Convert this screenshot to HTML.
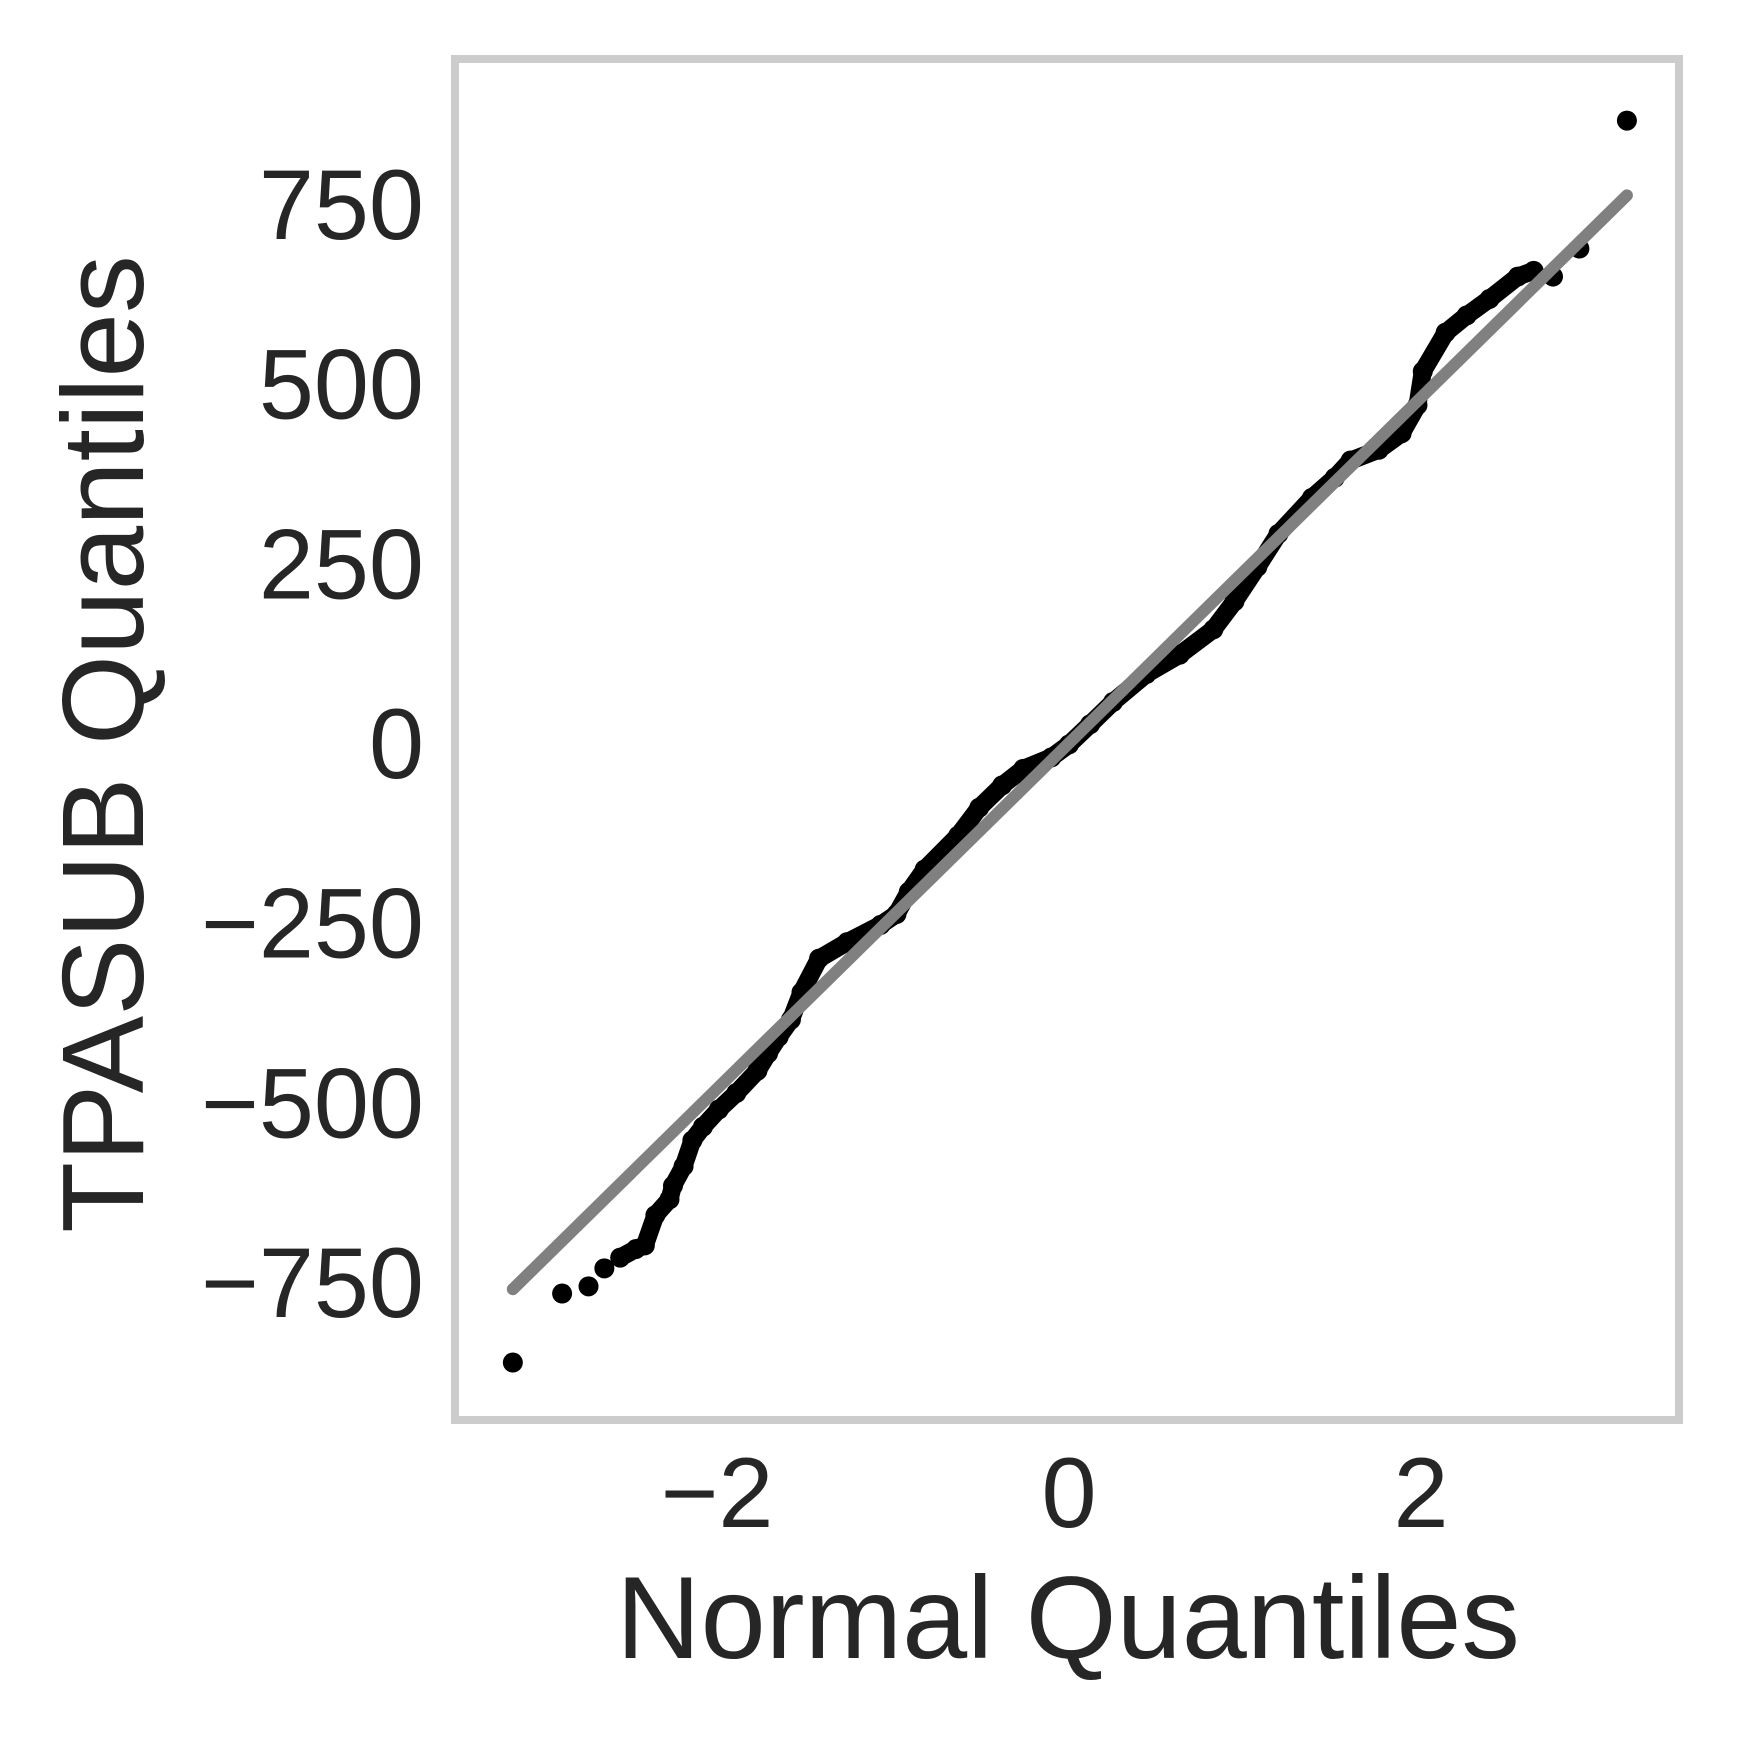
<!DOCTYPE html>
<html><head><meta charset="utf-8"><style>
html,body{margin:0;padding:0;background:#fff;}
svg{display:block;}
text{font-family:"Liberation Sans",Arial,sans-serif;fill:#262626;}
</style></head><body>
<svg id="chart" width="1739" height="1741" viewBox="0 0 1739 1741" xmlns="http://www.w3.org/2000/svg">
<rect x="455" y="59" width="1224" height="1361" fill="#fff" stroke="#cccccc" stroke-width="8"/>
<g id="ticks"></g>
<g id="marks"></g>
<text x="1068" y="1658" font-size="117" text-anchor="middle">Normal Quantiles</text>
<text transform="translate(143,744) rotate(-90)" font-size="116" text-anchor="middle">TPASUB Quantiles</text>
</svg>
<script>
const qx=[-3.16,-2.88,-2.73,-2.64,-2.55,-2.46,-2.41,-2.35,-2.27,-2.25,-2.19,-2.14,-2.08,-1.99,-1.89,-1.77,-1.71,-1.65,-1.58,-1.52,-1.42,-1.26,-1.07,-0.98,-0.91,-0.82,-0.63,-0.51,-0.38,-0.26,-0.10,0,0.12,0.25,0.44,0.63,0.82,0.94,1.07,1.19,1.38,1.51,1.60,1.76,1.89,1.98,2.01,2.14,2.26,2.39,2.55,2.64,2.75,2.90,3.17];
const qy=[-862,-766,-756,-731,-716,-704,-699,-657,-635,-616,-589,-553,-534,-510,-487,-456,-432,-409,-385,-347,-300,-277,-253,-238,-207,-176,-129,-90,-59,-36,-20,-2,26,57,96,123,158,197,245,291,341,369,393,408,431,470,517,571,595,618,649,657,649,688,866];
const lineX=[-3.16,3.17];
const lineY=[-760,762];
const xTicks=[-2,0,2];
const xTickLabels=["\u22122","0","2"];
const yTicks=[-750,-500,-250,0,250,500,750];
const yTickLabels=["\u2212750","\u2212500","\u2212250","0","250","500","750"];
const NS='http://www.w3.org/2000/svg';
const sx=v=>1069+v*176;
const sy=v=>743-v*0.7187;
const tk=document.getElementById('ticks'),mk=document.getElementById('marks');
xTicks.forEach((t,i)=>{const e=document.createElementNS(NS,'text');


e.setAttribute('x',sx(t));e.setAttribute('y',1527);e.setAttribute('font-size','99');e.setAttribute('text-anchor','middle');e.textContent=xTickLabels[i];tk.appendChild(e);});
yTicks.forEach((t,i)=>{const e=document.createElementNS(NS,'text');


e.setAttribute('x',424);e.setAttribute('y',sy(t)+35);e.setAttribute('font-size','99');e.setAttribute('text-anchor','end');e.textContent=yTickLabels[i];tk.appendChild(e);});
let d='';for(let i=4;i<=51;i++){d+=(i===4?'M':'L')+sx(qx[i])+','+sy(qy[i]);}
const band=document.createElementNS(NS,'path');


band.setAttribute('d',d);band.setAttribute('fill','none');band.setAttribute('stroke','#000');band.setAttribute('stroke-width','18');band.setAttribute('stroke-linejoin','round');band.setAttribute('stroke-linecap','round');mk.appendChild(band);
qx.forEach((x,i)=>{const c=document.createElementNS(NS,'circle');


c.setAttribute('cx',sx(x));c.setAttribute('cy',sy(qy[i]));c.setAttribute('r','10');c.setAttribute('fill','#000');mk.appendChild(c);});
const ln=document.createElementNS(NS,'line');


ln.setAttribute('x1',sx(lineX[0]));ln.setAttribute('y1',sy(lineY[0]));ln.setAttribute('x2',sx(lineX[1]));ln.setAttribute('y2',sy(lineY[1]));
ln.setAttribute('stroke','#808080');ln.setAttribute('stroke-width','12');ln.setAttribute('stroke-linecap','round');mk.appendChild(ln);
</script>
</body></html>
